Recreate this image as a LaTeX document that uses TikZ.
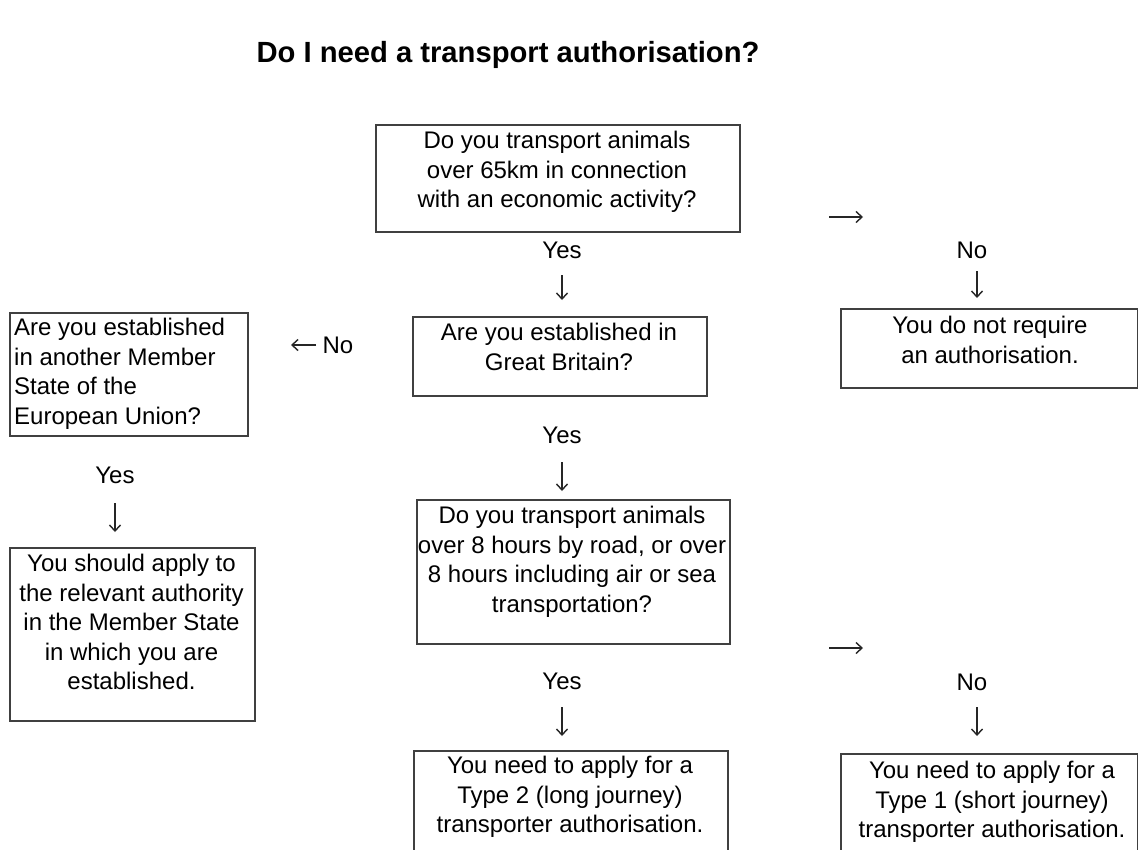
\documentclass[tikz,border=0pt]{standalone}
\usepackage{fontspec}
\setmainfont{Liberation Sans}
\usetikzlibrary{arrows.meta}
\begin{document}
\begin{tikzpicture}[x=1pt,y=-1pt,
  box/.style={draw=black!75, line width=1.5pt, inner sep=0pt, anchor=north west},
  txt/.style={font=\fontsize{24}{29.5}\selectfont, align=center, inner sep=0pt, anchor=north},
  lbl/.style={font=\fontsize{24}{29}\selectfont, inner sep=0pt},
  arr/.style={line width=1.4pt, black!85, -{Straight Barb[length=6pt,width=11pt,line width=1.4pt]}},
  ttl/.style={font=\fontsize{29.2}{34}\selectfont\bfseries, inner sep=0pt}]
\clip (0,0) rectangle (1138,849);
\fill[white] (0,0) rectangle (1138,849);
% title
\node[ttl] (title) at (508,55) {Do I need a transport authorisation?};
% boxes
\node[box, minimum width=364pt, minimum height=107pt] (b1) at (375,124) {};
\node[box, minimum width=294pt, minimum height=79pt] (b2) at (412,316) {};
\node[box, minimum width=238pt, minimum height=123pt] (beu) at (9,312) {};
\node[box, minimum width=245pt, minimum height=173pt] (bapply) at (9,547) {};
\node[box, minimum width=297pt, minimum height=79pt] (bno) at (840,308) {};
\node[box, minimum width=313pt, minimum height=144pt] (b3) at (416,499) {};
\node[box, minimum width=314pt, minimum height=140pt] (bt2) at (413,750) {};
\node[box, minimum width=297pt, minimum height=140pt] (bt1) at (840,753) {};
% texts
\node[txt] (t1) at (557,131) {Do you transport animals\\over 65km in connection\\with an economic activity?};
\node[txt] (t2) at (559,323) {Are you established in\\Great Britain?};
\node[txt, anchor=north west, align=left] (teu) at (14,318) {Are you established\\in another Member\\State of the\\European Union?};
\node[txt] (tapply) at (131.5,554) {You should apply to\\the relevant authority\\in the Member State\\in which you are\\established.};
\node[txt] (tno) at (990,316) {You do not require\\an authorisation.};
\node[txt] (t3) at (572,506) {Do you transport animals\\over 8 hours by road, or over\\8 hours including air or sea\\transportation?};
\node[txt] (tt2) at (570,756) {You need to apply for a\\Type 2 (long journey)\\transporter authorisation.};
\node[txt] (tt1) at (992,761) {You need to apply for a\\Type 1 (short journey)\\transporter authorisation.};
% labels
\node[lbl] (y1) at (562,250) {Yes};
\node[lbl] (n1) at (972,250) {No};
\node[lbl] (n2) at (338,345) {No};
\node[lbl] (y2) at (115,475) {Yes};
\node[lbl] (y3) at (562,435) {Yes};
\node[lbl] (y4) at (562,681) {Yes};
\node[lbl] (n3) at (972,682) {No};
% arrow marks
\coordinate (a1s) at (562,275); \coordinate (a1e) at (562,300);
\coordinate (r1s) at (829,217); \coordinate (r1e) at (863,217);
\coordinate (a2s) at (977,271); \coordinate (a2e) at (977,298);
\coordinate (l1s) at (316,345); \coordinate (l1e) at (291,345);
\coordinate (a3s) at (115,503); \coordinate (a3e) at (115,532);
\coordinate (a4s) at (562,462); \coordinate (a4e) at (562,491);
\coordinate (r2s) at (829,648); \coordinate (r2e) at (863,648);
\coordinate (a5s) at (562,707); \coordinate (a5e) at (562,736);
\coordinate (a6s) at (977,707); \coordinate (a6e) at (977,736);
\draw[arr] (a1s) -- (a1e);
\draw[arr] (r1s) -- (r1e);
\draw[arr] (a2s) -- (a2e);
\draw[arr] (l1s) -- (l1e);
\draw[arr] (a3s) -- (a3e);
\draw[arr] (a4s) -- (a4e);
\draw[arr] (r2s) -- (r2e);
\draw[arr] (a5s) -- (a5e);
\draw[arr] (a6s) -- (a6e);
\end{tikzpicture}
\end{document}
